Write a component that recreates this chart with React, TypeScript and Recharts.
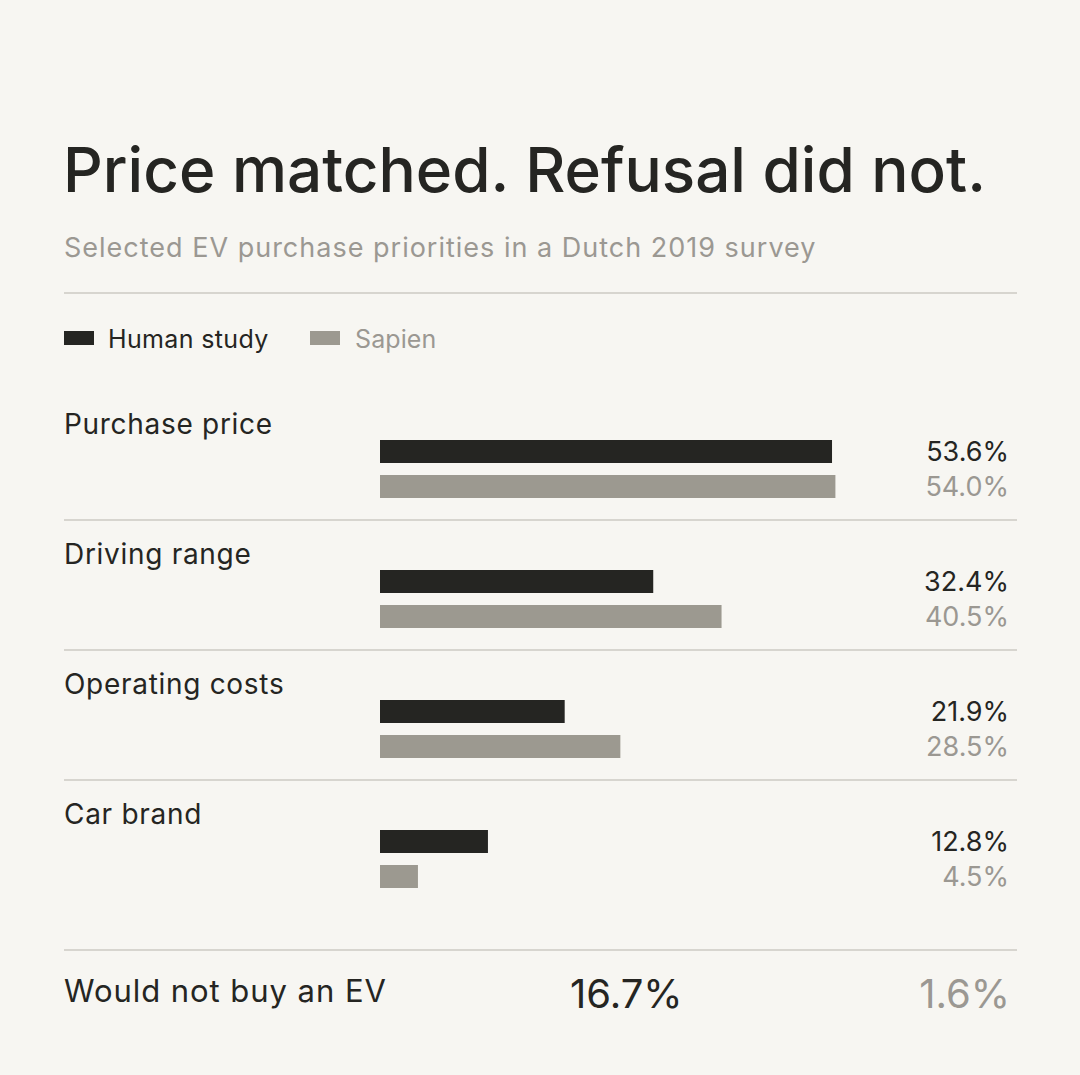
import { Bar, BarChart, LabelList, XAxis, YAxis } from "recharts";

const categories = ["Purchase price", "Driving range", "Operating costs", "Car brand"];
const humanStudy = [53.6, 32.4, 21.9, 12.8];
const sapien = [54.0, 40.5, 28.5, 4.5];
const seriesNames = ["Human study", "Sapien"];

const refusalLabel = "Would not buy an EV";
const refusalHuman = 16.7;
const refusalSapien = 1.6;

const title = "Price matched. Refusal did not.";
const subtitle = "Selected EV purchase priorities in a Dutch 2019 survey";

const BG = "#f7f6f2";
const DARK = "#252522";
const GREY = "#9c9990";
const GREY_TEXT = "#9b9892";
const RULE = "#d7d5cf";
const FONT = "Inter, 'Noto Sans', sans-serif";

const data = categories.map((name, i) => ({
  name,
  human: humanStudy[i],
  sapien: sapien[i],
}));

const fmt = (v: number) => `${v.toFixed(1)}%`;

// row label + separator drawn from the category tick
const RowTick = (props: any) => {
  const { y, payload, index } = props;
  return (
    <g>
      {index > 0 && (
        <line x1={64} x2={1017} y1={y - 79} y2={y - 79} stroke={RULE} strokeWidth={2} />
      )}
      <text x={64} y={y - 35} fill={DARK} fontSize={28} letterSpacing={0.7} fontFamily={FONT}>
        {payload.value}
      </text>
    </g>
  );
};

const valueLabel = (color: string) => (props: any) => {
  const { y, height, value } = props;
  return (
    <text
      x={1009}
      y={Number(y) + Number(height) / 2}
      textAnchor="end"
      dominantBaseline="central"
      fill={color}
      fontSize={27}
      fontFamily={FONT}
    >
      {fmt(Number(value))}
    </text>
  );
};

const App = () => {
  return (
    <div
      style={{
        position: "absolute",
        top: 0,
        left: 0,
        width: 1080,
        height: 1075,
        background: BG,
        overflow: "hidden",
      }}
    >
      <svg
        width={1080}
        height={1075}
        style={{ position: "absolute", top: 0, left: 0 }}
        fontFamily={FONT}
      >
        <text x={63} y={192} fill={DARK} fontSize={62} fontWeight={500}>
          {title}
        </text>
        <text x={64} y={257} fill={GREY_TEXT} fontSize={27} letterSpacing={1}>
          {subtitle}
        </text>
        <line x1={64} x2={1017} y1={293} y2={293} stroke={RULE} strokeWidth={2} />

        <rect x={64} y={331} width={30} height={14} fill={DARK} />
        <text x={108} y={348} fill={DARK} fontSize={25} letterSpacing={0.35}>
          {seriesNames[0]}
        </text>
        <rect x={310} y={331} width={30} height={14} fill={GREY} />
        <text x={355} y={348} fill={GREY_TEXT} fontSize={25} letterSpacing={0.1}>
          {seriesNames[1]}
        </text>

        <line x1={64} x2={1017} y1={950} y2={950} stroke={RULE} strokeWidth={2} />
        <text x={64} y={1002} fill={DARK} fontSize={31} letterSpacing={0.95}>
          {refusalLabel}
        </text>
        <text x={570} y={1008} fill={DARK} fontSize={40}>
          {fmt(refusalHuman)}
        </text>
        <text x={1010} y={1008} textAnchor="end" fill={GREY_TEXT} fontSize={40}>
          {fmt(refusalSapien)}
        </text>
      </svg>

      <div style={{ position: "absolute", top: 0, left: 0 }}>
        <BarChart
          width={1080}
          height={1075}
          data={data}
          layout="vertical"
          margin={{ top: 404, right: 194, bottom: 151, left: 64 }}
          barSize={23}
          barGap={12}
        >
          <XAxis type="number" domain={[0, 60]} hide />
          <YAxis
            type="category"
            dataKey="name"
            width={316}
            axisLine={false}
            tickLine={false}
            tick={<RowTick />}
            interval={0}
          />
          <Bar dataKey="human" fill={DARK} isAnimationActive={false}>
            <LabelList dataKey="human" content={valueLabel(DARK)} />
          </Bar>
          <Bar dataKey="sapien" fill={GREY} isAnimationActive={false}>
            <LabelList dataKey="sapien" content={valueLabel(GREY_TEXT)} />
          </Bar>
        </BarChart>
      </div>
    </div>
  );
};

export default App;
